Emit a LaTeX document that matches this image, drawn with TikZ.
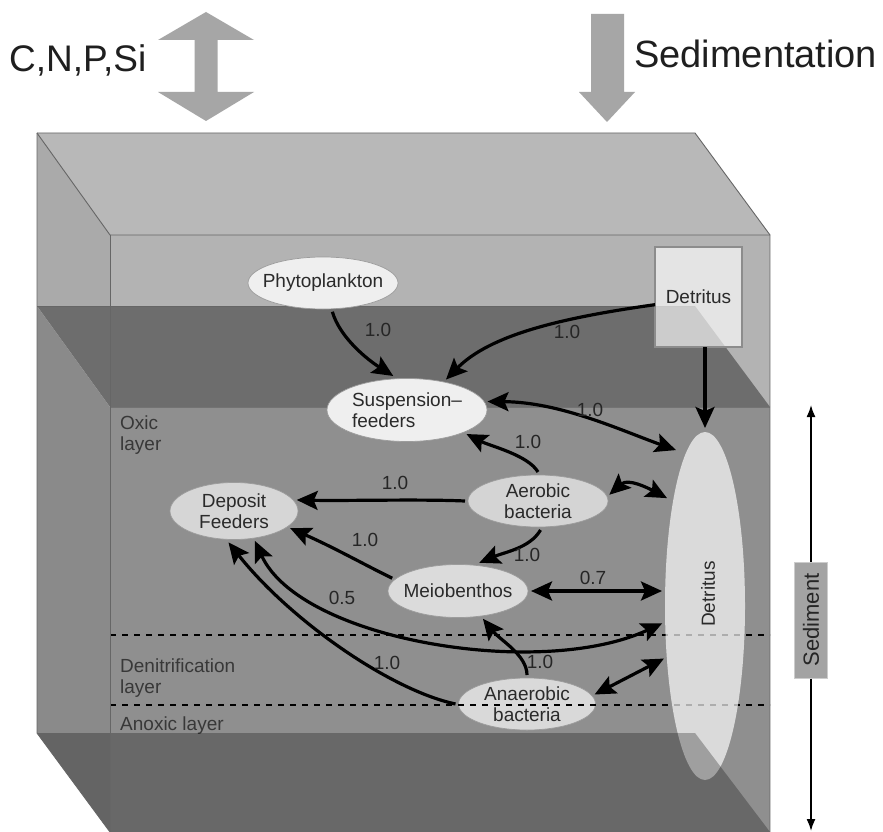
\documentclass[tikz,border=0pt]{standalone}
\usepackage{fontspec}
\setmainfont{Liberation Sans}
\usetikzlibrary{arrows.meta,shapes.geometric}

\definecolor{topface}{HTML}{B8B8B8}
\definecolor{leftwater}{HTML}{AAAAAA}
\definecolor{frontwater}{HTML}{B3B3B3}
\definecolor{sedsurf}{HTML}{6D6D6D}
\definecolor{sedleft}{HTML}{8A8A8A}
\definecolor{sedfront}{HTML}{8F8F8F}
\definecolor{boxedge}{HTML}{666666}
\definecolor{blockgray}{HTML}{A6A6A6}
\definecolor{txt}{HTML}{2A2A2A}
\definecolor{ring}{HTML}{9C9C9C}
\definecolor{lightorg}{HTML}{EFEFEF}
\definecolor{midorg}{HTML}{D6D6D6}
\definecolor{sedtag}{HTML}{A3A3A3}

\begin{document}
\begin{tikzpicture}[x=1pt,y=-1pt,
  every node/.style={font=\fontsize{19}{21}\selectfont, text=txt},
  org/.style={ellipse, draw=ring, line width=0.7pt, inner xsep=-10pt, inner ysep=-5pt,
              outer sep=3pt, align=center},
  tip/.tip={Stealth[length=21pt,width=19pt,inset=4pt]},
  flow/.style={line width=3.2pt, draw=black, -tip},
  flowtwo/.style={line width=3.2pt, draw=black, tip-tip},
  val/.style={font=\fontsize{19}{21}\selectfont, text=black!85, inner sep=0pt},
  layertext/.style={anchor=base west, inner sep=0pt, text=black!78},
  edgeline/.style={draw=boxedge, line width=0.9pt},
  dashline/.style={draw=black, line width=2.2pt, dash pattern=on 6pt off 6pt},
  axisline/.style={line width=1.6pt, draw=black, -{Latex[length=12pt,width=9pt]}}
]
\useasboundingbox (0,0) rectangle (883,832);
\fill[white] (0,0) rectangle (883,832);

% exchange arrows above the box
\fill[blockgray] (206,12) -- (254,40) -- (217.5,40) -- (217.5,92) -- (254,92) -- (206,121)
  -- (158,92) -- (194.5,92) -- (194.5,40) -- (158,40) -- cycle;
\fill[blockgray] (591,14) -- (624,14) -- (624,92) -- (635,92) -- (607,122) -- (579,92)
  -- (591,92) -- cycle;
\node[anchor=base west, inner sep=0pt, text=black!88, font=\fontsize{37}{40}\selectfont] (cnps) at (9,72) {C,N,P,Si};
\node[anchor=base west, inner sep=0pt, text=black!88, font=\fontsize{38}{41}\selectfont] (sedim) at (634,68) {Sedimentation};

% box: water column and sediment block
\fill[topface] (37,133) -- (695,133) -- (770,235) -- (110,235) -- cycle;
\fill[leftwater] (37,133) -- (110,235) -- (110,407) -- (37,306) -- cycle;
\fill[frontwater] (110,235) rectangle (770,407);
\fill[sedsurf] (37,306) -- (695,306) -- (770,407) -- (110,407) -- cycle;
\fill[sedleft] (37,306) -- (110,407) -- (110,832) -- (37,733) -- cycle;
\fill[sedfront] (110,407) rectangle (770,832);
\draw[draw=black!60, line width=0.6pt] (37,306) -- (695,306);
\draw[draw=black!55, line width=0.6pt] (110,407) -- (770,407);

% layer names
\node[layertext] (oxa) at (120,429) {Oxic};
\node[layertext] (oxb) at (120,450) {layer};
\node[layertext] (dna) at (120,672) {Denitrification};
\node[layertext] (dnb) at (120,693) {layer};
\node[layertext] (anx) at (120,730) {Anoxic layer};

% compartments
\node[org, fill=lightorg, minimum width=150pt, minimum height=52pt] (phyto) at (323,283) {Phytoplankton};
\node[rectangle, draw=black!45, line width=1.2pt, fill=white, fill opacity=0.65, text opacity=1,
      minimum width=87pt, minimum height=100pt, outer sep=0pt] (detsq) at (698.5,297) {Detritus};
\node[org, fill=lightorg, minimum width=160pt, minimum height=63pt, align=left] (susp) at (407,410) {Suspension–\\feeders};
\node[org, fill=midorg, minimum width=128pt, minimum height=57pt] (depo) at (234,511) {Deposit\\Feeders};
\node[org, fill=black!17, minimum width=140pt, minimum height=52pt] (aero) at (538,501) {Aerobic\\bacteria};
\node[org, fill=black!14, minimum width=140pt, minimum height=53pt] (meio) at (458,591) {Meiobenthos};
\node[org, fill=black!15, minimum width=137pt, minimum height=52pt] (anae) at (527,704) {Anaerobic\\bacteria};

% layer boundaries
\draw[dashline] (110,635) -- (770,635);
\draw[dashline] (110,705) -- (770,705);

% detritus pool in the sediment
\node[ellipse, draw=none, fill=white, fill opacity=0.68, minimum width=80pt, minimum height=348pt,
      inner sep=0pt, outer sep=3pt] (detel) at (705,606) {};
\node[rotate=90, inner sep=0pt] (detlab) at (708,594) {Detritus};

% bottom of the box
\fill[black, fill opacity=0.27] (37,733) -- (695,733) -- (770,832) -- (110,832) -- cycle;

% box edges
\draw[edgeline] (37,133) -- (695,133) -- (770,235) -- (770,832);
\draw[edgeline] (37,133) -- (110,235) -- (770,235);
\draw[edgeline] (37,133) -- (37,733) -- (110,832);
\draw[edgeline] (110,235) -- (110,832);

% flows
\draw[flow] (phyto.-72) .. controls (340,338) and (368,360) .. (susp.112);
\draw[flow] (detsq.190) .. controls (560,318) and (490,335) .. (susp.38);
\draw[flow, shorten >=1pt] (detsq.south -| detel.north) -- (detel.north);
\draw[flowtwo, shorten >=8pt] (susp.6) .. controls (560,402) and (620,430) .. (detel.98);
\draw[flow] (aero.north) .. controls (528,455) and (490,446) .. (susp.-22);
\draw[flowtwo, shorten >=4pt] (aero.5) .. controls (628,478) and (648,488) .. (detel.108);
\draw[flow] (aero.west) .. controls (420,499) and (345,501) .. (depo.10);
\draw[flow] (aero.-85) .. controls (530,548) and (505,552) .. (meio.53);
\draw[flow] (meio.169) .. controls (365,565) and (335,548) .. (depo.-17);
\draw[flowtwo] (meio.east) -- (meio.east -| detel.west);
\draw[flowtwo] (depo.-55) .. controls (300,640) and (540,680) .. (detel.202);
\draw[flow] (anae.west) .. controls (390,690) and (290,620) .. (depo.-100);
\draw[flow] (anae.north) .. controls (527,655) and (500,640) .. (meio.-48);
\draw[flowtwo] (anae.8) -- (detel.232);

% flow values
\node[val] (v1) at (378,330) {1.0};
\node[val] (v2) at (567,332) {1.0};
\node[val] (v3) at (590,410) {1.0};
\node[val] (v4) at (528,442) {1.0};
\node[val] (v5) at (395,483) {1.0};
\node[val] (v6) at (527,555) {1.0};
\node[val] (v7) at (365,540) {1.0};
\node[val] (v8) at (593,578) {0.7};
\node[val] (v9) at (342,598) {0.5};
\node[val] (v10) at (387,663) {1.0};
\node[val] (v11) at (540,662) {1.0};

% sediment depth axis
\node[rotate=90, fill=sedtag, draw=black!20, line width=1pt, minimum width=116pt, minimum height=33pt,
      inner sep=0pt, font=\fontsize{22}{24}\selectfont, text=black!85] (sedlab) at (811,620) {Sediment};
\coordinate (sedtop) at (811,405);
\coordinate (sedbot) at (811,831);
\draw[axisline] (sedlab.east) -- (sedtop);
\draw[axisline] (sedlab.west) -- (sedbot);
\end{tikzpicture}
\end{document}
